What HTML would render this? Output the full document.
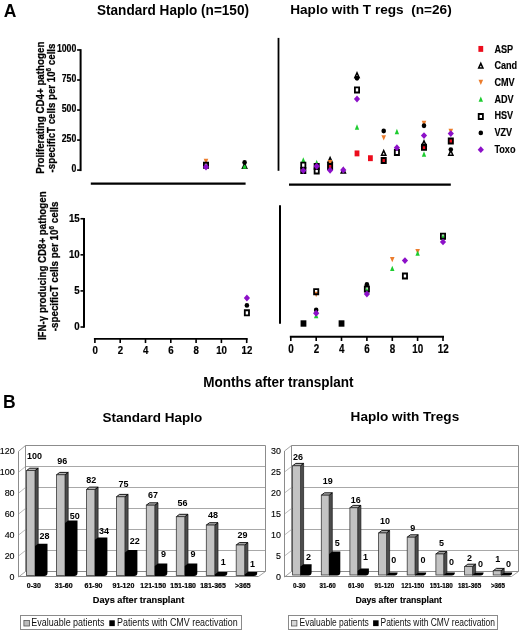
<!DOCTYPE html><html><head><meta charset="utf-8"><style>html,body{margin:0;padding:0;background:#fff;}svg{display:block;will-change:transform;}text{font-family:"Liberation Sans",sans-serif;}</style></head><body>
<svg width="520" height="635" viewBox="0 0 520 635">
<rect width="520" height="635" fill="#fff"/>
<text x="3.7" y="16.9" font-size="17.5" font-weight="bold" text-anchor="start" fill="#000" >A</text>
<text x="97.0" y="14.8" font-size="14" font-weight="bold" text-anchor="start" fill="#000" textLength="152" lengthAdjust="spacingAndGlyphs" >Standard Haplo (n=150)</text>
<text x="290.2" y="14.2" font-size="13" font-weight="bold" text-anchor="start" fill="#000" textLength="161.5" lengthAdjust="spacingAndGlyphs" >Haplo with T regs&#160; (n=26)</text>
<line x1="80.6" y1="49.17999999999999" x2="80.6" y2="171.1" stroke="#000" stroke-width="2"/>
<line x1="77.1" y1="49.97999999999999" x2="80.6" y2="49.97999999999999" stroke="#000" stroke-width="1.6"/>
<text x="76.3" y="51.6" font-size="10.5" font-weight="bold" text-anchor="end" fill="#000" stroke="#000" stroke-width="0.2" textLength="19.39" lengthAdjust="spacingAndGlyphs" >1000</text>
<line x1="77.1" y1="80.00999999999999" x2="80.6" y2="80.00999999999999" stroke="#000" stroke-width="1.6"/>
<text x="76.3" y="81.6" font-size="10.5" font-weight="bold" text-anchor="end" fill="#000" stroke="#000" stroke-width="0.2" textLength="14.54" lengthAdjust="spacingAndGlyphs" >750</text>
<line x1="77.1" y1="110.03999999999999" x2="80.6" y2="110.03999999999999" stroke="#000" stroke-width="1.6"/>
<text x="76.3" y="111.6" font-size="10.5" font-weight="bold" text-anchor="end" fill="#000" stroke="#000" stroke-width="0.2" textLength="14.54" lengthAdjust="spacingAndGlyphs" >500</text>
<line x1="77.1" y1="140.07" x2="80.6" y2="140.07" stroke="#000" stroke-width="1.6"/>
<text x="76.3" y="141.7" font-size="10.5" font-weight="bold" text-anchor="end" fill="#000" stroke="#000" stroke-width="0.2" textLength="14.54" lengthAdjust="spacingAndGlyphs" >250</text>
<line x1="77.1" y1="170.1" x2="80.6" y2="170.1" stroke="#000" stroke-width="1.6"/>
<text x="76.3" y="171.7" font-size="10.5" font-weight="bold" text-anchor="end" fill="#000" stroke="#000" stroke-width="0.2" textLength="4.85" lengthAdjust="spacingAndGlyphs" >0</text>
<g transform="translate(44.2,107.6) rotate(-90) scale(0.9786,1)"><text x="-67.65" y="0" font-size="10" font-weight="bold" stroke="#000" stroke-width="0.25">Proliferating CD4+ pathogen</text></g>
<g transform="translate(55.4,109.3) rotate(-90) scale(0.9723,1)"><text x="-64.90" y="0" font-size="10" font-weight="bold" stroke="#000" stroke-width="0.25">-specificT cells per 10<tspan font-size="6.5" dy="-4">6</tspan><tspan dy="4"> cells</tspan></text></g>
<line x1="90.8" y1="183.6" x2="245.6" y2="183.6" stroke="#000" stroke-width="2.2"/>
<line x1="278.5" y1="37.9" x2="278.5" y2="170.8" stroke="#000" stroke-width="1.8"/>
<line x1="289" y1="184.6" x2="450.8" y2="184.6" stroke="#000" stroke-width="2.2"/>
<path fill-rule="evenodd" d="M244.60,161.80L247.90,169.00L241.30,169.00Z M244.60,165.60L245.70,167.50L243.50,167.50Z" fill="#000"/>
<polygon points="203.70,158.85 208.30,158.85 206.00,164.15" fill="#ec7c2c"/>
<polygon points="244.60,163.55 246.80,168.85 242.40,168.85" fill="#1ecc30"/>
<path fill-rule="evenodd" d="M203.00,161.80h6.0v7.0h-6.0Z M204.80,163.70h2.4v3.2h-2.4Z" fill="#000"/>
<ellipse cx="244.60" cy="162.50" rx="2.3" ry="2.45" fill="#000"/>
<polygon points="206.00,163.55 209.10,167.00 206.00,170.45 202.90,167.00" fill="#8c10c8"/>
<rect x="327.70" y="164.05" width="4.8" height="5.9" fill="#ec0c1c"/>
<rect x="354.60" y="150.45" width="4.8" height="5.9" fill="#ec0c1c"/>
<rect x="368.00" y="155.25" width="4.8" height="5.9" fill="#ec0c1c"/>
<rect x="381.30" y="157.05" width="4.8" height="5.9" fill="#ec0c1c"/>
<rect x="421.60" y="144.05" width="4.8" height="5.9" fill="#ec0c1c"/>
<rect x="448.40" y="138.05" width="4.8" height="5.9" fill="#ec0c1c"/>
<path fill-rule="evenodd" d="M330.10,155.80L333.40,163.00L326.80,163.00Z M330.10,159.60L331.20,161.50L329.00,161.50Z" fill="#000"/>
<path fill-rule="evenodd" d="M343.30,166.50L346.60,173.70L340.00,173.70Z M343.30,170.30L344.40,172.20L342.20,172.20Z" fill="#000"/>
<path fill-rule="evenodd" d="M357.00,71.00L360.30,78.20L353.70,78.20Z M357.00,74.80L358.10,76.70L355.90,76.70Z" fill="#000"/>
<path fill-rule="evenodd" d="M383.70,148.80L387.00,156.00L380.40,156.00Z M383.70,152.60L384.80,154.50L382.60,154.50Z" fill="#000"/>
<path fill-rule="evenodd" d="M424.00,139.00L427.30,146.20L420.70,146.20Z M424.00,142.80L425.10,144.70L422.90,144.70Z" fill="#000"/>
<path fill-rule="evenodd" d="M450.80,148.70L454.10,155.90L447.50,155.90Z M450.80,152.50L451.90,154.40L449.70,154.40Z" fill="#000"/>
<polygon points="327.80,160.05 332.40,160.05 330.10,165.35" fill="#ec7c2c"/>
<polygon points="381.40,135.25 386.00,135.25 383.70,140.55" fill="#ec7c2c"/>
<polygon points="421.70,120.85 426.30,120.85 424.00,126.15" fill="#ec7c2c"/>
<polygon points="448.50,128.85 453.10,128.85 450.80,134.15" fill="#ec7c2c"/>
<polygon points="303.30,157.15 305.50,162.45 301.10,162.45" fill="#1ecc30"/>
<polygon points="316.70,159.85 318.90,165.15 314.50,165.15" fill="#1ecc30"/>
<polygon points="357.00,124.35 359.20,129.65 354.80,129.65" fill="#1ecc30"/>
<polygon points="396.90,128.85 399.10,134.15 394.70,134.15" fill="#1ecc30"/>
<polygon points="424.00,151.35 426.20,156.65 421.80,156.65" fill="#1ecc30"/>
<path fill-rule="evenodd" d="M300.30,161.70h6.0v7.0h-6.0Z M302.10,163.60h2.4v3.2h-2.4Z" fill="#000"/>
<path fill-rule="evenodd" d="M300.30,167.00h6.0v7.0h-6.0Z M302.10,168.90h2.4v3.2h-2.4Z" fill="#000"/>
<path fill-rule="evenodd" d="M313.70,163.00h6.0v7.0h-6.0Z M315.50,164.90h2.4v3.2h-2.4Z" fill="#000"/>
<path fill-rule="evenodd" d="M313.70,167.50h6.0v7.0h-6.0Z M315.50,169.40h2.4v3.2h-2.4Z" fill="#000"/>
<path fill-rule="evenodd" d="M327.10,163.00h6.0v7.0h-6.0Z M328.90,164.90h2.4v3.2h-2.4Z" fill="#000"/>
<path fill-rule="evenodd" d="M354.00,86.40h6.0v7.0h-6.0Z M355.80,88.30h2.4v3.2h-2.4Z" fill="#000"/>
<path fill-rule="evenodd" d="M380.70,157.00h6.0v7.0h-6.0Z M382.50,158.90h2.4v3.2h-2.4Z" fill="#000"/>
<path fill-rule="evenodd" d="M393.90,148.90h6.0v7.0h-6.0Z M395.70,150.80h2.4v3.2h-2.4Z" fill="#000"/>
<path fill-rule="evenodd" d="M421.00,143.80h6.0v7.0h-6.0Z M422.80,145.70h2.4v3.2h-2.4Z" fill="#000"/>
<path fill-rule="evenodd" d="M447.80,137.50h6.0v7.0h-6.0Z M449.60,139.40h2.4v3.2h-2.4Z" fill="#000"/>
<ellipse cx="357.00" cy="78.20" rx="2.3" ry="2.45" fill="#000"/>
<ellipse cx="383.70" cy="131.00" rx="2.3" ry="2.45" fill="#000"/>
<ellipse cx="424.00" cy="125.80" rx="2.3" ry="2.45" fill="#000"/>
<ellipse cx="450.80" cy="149.60" rx="2.3" ry="2.45" fill="#000"/>
<polygon points="303.30,167.15 306.40,170.60 303.30,174.05 300.20,170.60" fill="#8c10c8"/>
<polygon points="316.70,162.75 319.80,166.20 316.70,169.65 313.60,166.20" fill="#8c10c8"/>
<polygon points="330.10,166.85 333.20,170.30 330.10,173.75 327.00,170.30" fill="#8c10c8"/>
<polygon points="343.30,166.55 346.40,170.00 343.30,173.45 340.20,170.00" fill="#8c10c8"/>
<polygon points="357.00,95.55 360.10,99.00 357.00,102.45 353.90,99.00" fill="#8c10c8"/>
<polygon points="396.90,144.25 400.00,147.70 396.90,151.15 393.80,147.70" fill="#8c10c8"/>
<polygon points="424.00,132.15 427.10,135.60 424.00,139.05 420.90,135.60" fill="#8c10c8"/>
<polygon points="450.80,130.15 453.90,133.60 450.80,137.05 447.70,133.60" fill="#8c10c8"/>
<rect x="478.40" y="45.95" width="4.8" height="5.9" fill="#ec0c1c"/>
<text x="494.4" y="52.5" font-size="11.4" font-weight="bold" text-anchor="start" fill="#000" stroke="#000" stroke-width="0.15" textLength="18.75" lengthAdjust="spacingAndGlyphs" >ASP</text>
<path fill-rule="evenodd" d="M480.80,61.60L484.10,68.80L477.50,68.80Z M480.80,65.40L481.90,67.30L479.70,67.30Z" fill="#000"/>
<text x="494.4" y="69.2" font-size="11.4" font-weight="bold" text-anchor="start" fill="#000" stroke="#000" stroke-width="0.15" textLength="22.8" lengthAdjust="spacingAndGlyphs" >Cand</text>
<polygon points="478.50,79.70 483.10,79.70 480.80,85.00" fill="#ec7c2c"/>
<text x="494.4" y="85.9" font-size="11.4" font-weight="bold" text-anchor="start" fill="#000" stroke="#000" stroke-width="0.15" textLength="20.27" lengthAdjust="spacingAndGlyphs" >CMV</text>
<polygon points="480.80,96.50 483.00,101.80 478.60,101.80" fill="#1ecc30"/>
<text x="494.4" y="102.5" font-size="11.4" font-weight="bold" text-anchor="start" fill="#000" stroke="#000" stroke-width="0.15" textLength="19.26" lengthAdjust="spacingAndGlyphs" >ADV</text>
<path fill-rule="evenodd" d="M477.80,113.00h6.0v7.0h-6.0Z M479.60,114.90h2.4v3.2h-2.4Z" fill="#000"/>
<text x="494.4" y="119.2" font-size="11.4" font-weight="bold" text-anchor="start" fill="#000" stroke="#000" stroke-width="0.15" textLength="18.75" lengthAdjust="spacingAndGlyphs" >HSV</text>
<ellipse cx="480.80" cy="132.90" rx="2.3" ry="2.45" fill="#000"/>
<text x="494.4" y="135.9" font-size="11.4" font-weight="bold" text-anchor="start" fill="#000" stroke="#000" stroke-width="0.15" textLength="17.74" lengthAdjust="spacingAndGlyphs" >VZV</text>
<polygon points="480.80,146.20 483.90,149.65 480.80,153.10 477.70,149.65" fill="#8c10c8"/>
<text x="494.4" y="152.6" font-size="11.4" font-weight="bold" text-anchor="start" fill="#000" stroke="#000" stroke-width="0.15" textLength="21.11" lengthAdjust="spacingAndGlyphs" >Toxo</text>
<line x1="84.0" y1="217.945" x2="84.0" y2="327.8" stroke="#000" stroke-width="2"/>
<line x1="80.5" y1="218.745" x2="84.0" y2="218.745" stroke="#000" stroke-width="1.6"/>
<text x="79.7" y="221.7" font-size="11.3" font-weight="bold" text-anchor="end" fill="#000" stroke="#000" stroke-width="0.2" textLength="10.81" lengthAdjust="spacingAndGlyphs" >15</text>
<line x1="80.5" y1="254.82999999999998" x2="84.0" y2="254.82999999999998" stroke="#000" stroke-width="1.6"/>
<text x="79.7" y="257.8" font-size="11.3" font-weight="bold" text-anchor="end" fill="#000" stroke="#000" stroke-width="0.2" textLength="10.81" lengthAdjust="spacingAndGlyphs" >10</text>
<line x1="80.5" y1="290.915" x2="84.0" y2="290.915" stroke="#000" stroke-width="1.6"/>
<text x="79.7" y="293.9" font-size="11.3" font-weight="bold" text-anchor="end" fill="#000" stroke="#000" stroke-width="0.2" textLength="5.4" lengthAdjust="spacingAndGlyphs" >5</text>
<line x1="80.5" y1="327.0" x2="84.0" y2="327.0" stroke="#000" stroke-width="1.6"/>
<text x="79.7" y="330.0" font-size="11.3" font-weight="bold" text-anchor="end" fill="#000" stroke="#000" stroke-width="0.2" textLength="5.4" lengthAdjust="spacingAndGlyphs" >0</text>
<g transform="translate(46.0,265.8) rotate(-90) scale(0.9709,1)"><text x="-76.53" y="0" font-size="10" font-weight="bold" stroke="#000" stroke-width="0.25">IFN-&#947; producing CD8+ pathogen</text></g>
<g transform="translate(57.6,267.5) rotate(-90) scale(0.9815,1)"><text x="-64.90" y="0" font-size="10" font-weight="bold" stroke="#000" stroke-width="0.25">-specificT cells per 10<tspan font-size="6.5" dy="-4">6</tspan><tspan dy="4"> cells</tspan></text></g>
<line x1="280" y1="205.3" x2="280" y2="323.8" stroke="#000" stroke-width="2"/>
<line x1="93.9" y1="338.85" x2="247.7" y2="338.85" stroke="#000" stroke-width="1.9"/>
<line x1="94.9" y1="338.85" x2="94.9" y2="343.05" stroke="#000" stroke-width="1.6"/>
<text x="95.1" y="354.3" font-size="11" font-weight="bold" text-anchor="middle" fill="#000" stroke="#000" stroke-width="0.2" textLength="5.38" lengthAdjust="spacingAndGlyphs" >0</text>
<line x1="120.2" y1="338.85" x2="120.2" y2="343.05" stroke="#000" stroke-width="1.6"/>
<text x="120.4" y="354.3" font-size="11" font-weight="bold" text-anchor="middle" fill="#000" stroke="#000" stroke-width="0.2" textLength="5.38" lengthAdjust="spacingAndGlyphs" >2</text>
<line x1="145.5" y1="338.85" x2="145.5" y2="343.05" stroke="#000" stroke-width="1.6"/>
<text x="145.7" y="354.3" font-size="11" font-weight="bold" text-anchor="middle" fill="#000" stroke="#000" stroke-width="0.2" textLength="5.38" lengthAdjust="spacingAndGlyphs" >4</text>
<line x1="170.8" y1="338.85" x2="170.8" y2="343.05" stroke="#000" stroke-width="1.6"/>
<text x="171.0" y="354.3" font-size="11" font-weight="bold" text-anchor="middle" fill="#000" stroke="#000" stroke-width="0.2" textLength="5.38" lengthAdjust="spacingAndGlyphs" >6</text>
<line x1="196.1" y1="338.85" x2="196.1" y2="343.05" stroke="#000" stroke-width="1.6"/>
<text x="196.3" y="354.3" font-size="11" font-weight="bold" text-anchor="middle" fill="#000" stroke="#000" stroke-width="0.2" textLength="5.38" lengthAdjust="spacingAndGlyphs" >8</text>
<line x1="221.4" y1="338.85" x2="221.4" y2="343.05" stroke="#000" stroke-width="1.6"/>
<text x="221.6" y="354.3" font-size="11" font-weight="bold" text-anchor="middle" fill="#000" stroke="#000" stroke-width="0.2" textLength="10.77" lengthAdjust="spacingAndGlyphs" >10</text>
<line x1="246.7" y1="338.85" x2="246.7" y2="343.05" stroke="#000" stroke-width="1.6"/>
<text x="246.9" y="354.3" font-size="11" font-weight="bold" text-anchor="middle" fill="#000" stroke="#000" stroke-width="0.2" textLength="10.77" lengthAdjust="spacingAndGlyphs" >12</text>
<line x1="289.8" y1="336.8" x2="444.0" y2="336.8" stroke="#000" stroke-width="1.9"/>
<line x1="290.8" y1="336.8" x2="290.8" y2="341.0" stroke="#000" stroke-width="1.6"/>
<text x="291.0" y="353.2" font-size="12" font-weight="bold" text-anchor="middle" fill="#000" stroke="#000" stroke-width="0.2" textLength="5.47" lengthAdjust="spacingAndGlyphs" >0</text>
<line x1="316.2" y1="336.8" x2="316.2" y2="341.0" stroke="#000" stroke-width="1.6"/>
<text x="316.4" y="353.2" font-size="12" font-weight="bold" text-anchor="middle" fill="#000" stroke="#000" stroke-width="0.2" textLength="5.47" lengthAdjust="spacingAndGlyphs" >2</text>
<line x1="341.5" y1="336.8" x2="341.5" y2="341.0" stroke="#000" stroke-width="1.6"/>
<text x="341.7" y="353.2" font-size="12" font-weight="bold" text-anchor="middle" fill="#000" stroke="#000" stroke-width="0.2" textLength="5.47" lengthAdjust="spacingAndGlyphs" >4</text>
<line x1="366.9" y1="336.8" x2="366.9" y2="341.0" stroke="#000" stroke-width="1.6"/>
<text x="367.1" y="353.2" font-size="12" font-weight="bold" text-anchor="middle" fill="#000" stroke="#000" stroke-width="0.2" textLength="5.47" lengthAdjust="spacingAndGlyphs" >6</text>
<line x1="392.3" y1="336.8" x2="392.3" y2="341.0" stroke="#000" stroke-width="1.6"/>
<text x="392.5" y="353.2" font-size="12" font-weight="bold" text-anchor="middle" fill="#000" stroke="#000" stroke-width="0.2" textLength="5.47" lengthAdjust="spacingAndGlyphs" >8</text>
<line x1="417.6" y1="336.8" x2="417.6" y2="341.0" stroke="#000" stroke-width="1.6"/>
<text x="417.8" y="353.2" font-size="12" font-weight="bold" text-anchor="middle" fill="#000" stroke="#000" stroke-width="0.2" textLength="10.95" lengthAdjust="spacingAndGlyphs" >10</text>
<line x1="443.0" y1="336.8" x2="443.0" y2="341.0" stroke="#000" stroke-width="1.6"/>
<text x="443.2" y="353.2" font-size="12" font-weight="bold" text-anchor="middle" fill="#000" stroke="#000" stroke-width="0.2" textLength="10.95" lengthAdjust="spacingAndGlyphs" >12</text>
<path fill-rule="evenodd" d="M243.90,309.30h6.0v7.0h-6.0Z M245.70,311.20h2.4v3.2h-2.4Z" fill="#000"/>
<ellipse cx="246.90" cy="305.40" rx="2.3" ry="2.45" fill="#000"/>
<polygon points="246.90,294.55 250.00,298.00 246.90,301.45 243.80,298.00" fill="#8c10c8"/>
<rect x="300.58" y="320.30" width="5.8" height="6.4" fill="#000"/>
<rect x="338.63" y="320.30" width="5.8" height="6.4" fill="#000"/>
<polygon points="313.87,291.85 318.47,291.85 316.17,297.15" fill="#ec7c2c"/>
<polygon points="389.97,256.95 394.57,256.95 392.27,262.25" fill="#ec7c2c"/>
<polygon points="415.33,248.95 419.93,248.95 417.63,254.25" fill="#ec7c2c"/>
<polygon points="316.17,312.85 318.37,318.15 313.97,318.15" fill="#1ecc30"/>
<polygon points="366.90,287.35 369.10,292.65 364.70,292.65" fill="#1ecc30"/>
<polygon points="392.27,265.65 394.47,270.95 390.07,270.95" fill="#1ecc30"/>
<polygon points="417.63,250.55 419.83,255.85 415.43,255.85" fill="#1ecc30"/>
<polygon points="443.00,234.15 445.20,239.45 440.80,239.45" fill="#1ecc30"/>
<path fill-rule="evenodd" d="M313.17,288.20h6.0v7.0h-6.0Z M314.97,290.10h2.4v3.2h-2.4Z" fill="#000"/>
<path fill-rule="evenodd" d="M363.90,285.50h6.0v7.0h-6.0Z M365.70,287.40h2.4v3.2h-2.4Z" fill="#000"/>
<path fill-rule="evenodd" d="M401.95,272.50h6.0v7.0h-6.0Z M403.75,274.40h2.4v3.2h-2.4Z" fill="#000"/>
<path fill-rule="evenodd" d="M440.00,232.70h6.0v7.0h-6.0Z M441.80,234.60h2.4v3.2h-2.4Z" fill="#000"/>
<ellipse cx="316.17" cy="310.00" rx="2.3" ry="2.45" fill="#000"/>
<ellipse cx="366.90" cy="284.40" rx="2.3" ry="2.45" fill="#000"/>
<polygon points="316.17,309.85 319.27,313.30 316.17,316.75 313.07,313.30" fill="#8c10c8"/>
<polygon points="366.90,290.55 370.00,294.00 366.90,297.45 363.80,294.00" fill="#8c10c8"/>
<polygon points="404.95,257.15 408.05,260.60 404.95,264.05 401.85,260.60" fill="#8c10c8"/>
<polygon points="443.00,238.45 446.10,241.90 443.00,245.35 439.90,241.90" fill="#8c10c8"/>
<text x="203.2" y="386.9" font-size="14" font-weight="bold" text-anchor="start" fill="#000" textLength="150.3" lengthAdjust="spacingAndGlyphs" >Months after transplant</text>
<text x="2.9" y="407.8" font-size="17.5" font-weight="bold" text-anchor="start" fill="#000" >B</text>
<text x="102.6" y="421.6" font-size="13" font-weight="bold" text-anchor="start" fill="#000" textLength="99.6" lengthAdjust="spacingAndGlyphs" >Standard Haplo</text>
<text x="350.6" y="421.2" font-size="13.3" font-weight="bold" text-anchor="start" fill="#000" textLength="108.6" lengthAdjust="spacingAndGlyphs" >Haplo with Tregs</text>
<line x1="18.5" y1="577.0" x2="25.5" y2="571.5" stroke="#8c8c8c" stroke-width="0.8"/>
<line x1="25.5" y1="571.5" x2="265.5" y2="571.5" stroke="#8c8c8c" stroke-width="1"/>
<text x="14.6" y="580.0" font-size="8.5" font-weight="normal" text-anchor="end" fill="#000" stroke="#000" stroke-width="0.12" textLength="4.96" lengthAdjust="spacingAndGlyphs" >0</text>
<line x1="18.5" y1="556.0" x2="25.5" y2="550.5" stroke="#a8a8a8" stroke-width="0.8"/>
<line x1="25.5" y1="550.5" x2="265.5" y2="550.5" stroke="#a8a8a8" stroke-width="1"/>
<text x="14.6" y="559.0" font-size="8.5" font-weight="normal" text-anchor="end" fill="#000" stroke="#000" stroke-width="0.12" textLength="9.93" lengthAdjust="spacingAndGlyphs" >20</text>
<line x1="18.5" y1="535.1" x2="25.5" y2="529.5" stroke="#a8a8a8" stroke-width="0.8"/>
<line x1="25.5" y1="529.5" x2="265.5" y2="529.5" stroke="#a8a8a8" stroke-width="1"/>
<text x="14.6" y="538.1" font-size="8.5" font-weight="normal" text-anchor="end" fill="#000" stroke="#000" stroke-width="0.12" textLength="9.93" lengthAdjust="spacingAndGlyphs" >40</text>
<line x1="18.5" y1="514.1" x2="25.5" y2="508.5" stroke="#a8a8a8" stroke-width="0.8"/>
<line x1="25.5" y1="508.5" x2="265.5" y2="508.5" stroke="#a8a8a8" stroke-width="1"/>
<text x="14.6" y="517.1" font-size="8.5" font-weight="normal" text-anchor="end" fill="#000" stroke="#000" stroke-width="0.12" textLength="9.93" lengthAdjust="spacingAndGlyphs" >60</text>
<line x1="18.5" y1="493.2" x2="25.5" y2="487.5" stroke="#a8a8a8" stroke-width="0.8"/>
<line x1="25.5" y1="487.5" x2="265.5" y2="487.5" stroke="#a8a8a8" stroke-width="1"/>
<text x="14.6" y="496.2" font-size="8.5" font-weight="normal" text-anchor="end" fill="#000" stroke="#000" stroke-width="0.12" textLength="9.93" lengthAdjust="spacingAndGlyphs" >80</text>
<line x1="18.5" y1="472.2" x2="25.5" y2="466.5" stroke="#a8a8a8" stroke-width="0.8"/>
<line x1="25.5" y1="466.5" x2="265.5" y2="466.5" stroke="#a8a8a8" stroke-width="1"/>
<text x="14.6" y="475.2" font-size="8.5" font-weight="normal" text-anchor="end" fill="#000" stroke="#000" stroke-width="0.12" textLength="14.89" lengthAdjust="spacingAndGlyphs" >100</text>
<line x1="18.5" y1="451.3" x2="25.5" y2="445.5" stroke="#8c8c8c" stroke-width="0.8"/>
<line x1="25.5" y1="445.5" x2="265.5" y2="445.5" stroke="#8c8c8c" stroke-width="1"/>
<text x="14.6" y="454.3" font-size="8.5" font-weight="normal" text-anchor="end" fill="#000" stroke="#000" stroke-width="0.12" textLength="14.89" lengthAdjust="spacingAndGlyphs" >120</text>
<line x1="18.5" y1="451.3" x2="18.5" y2="577.0" stroke="#8c8c8c" stroke-width="1"/>
<line x1="25.5" y1="445.5" x2="25.5" y2="571.5" stroke="#8c8c8c" stroke-width="1"/>
<line x1="265.5" y1="445.5" x2="265.5" y2="571.5" stroke="#8c8c8c" stroke-width="1"/>
<line x1="18.5" y1="576.5" x2="258.5" y2="576.5" stroke="#8c8c8c" stroke-width="1"/>
<line x1="258.5" y1="576.5" x2="265.5" y2="571.5" stroke="#8c8c8c" stroke-width="0.8"/>
<polygon points="35.0,470.6 38.2,468.2 38.2,573.0 35.0,575.4" fill="#4c4c4c" stroke="#1a1a1a" stroke-width="0.7"/>
<polygon points="26.5,470.6 29.7,468.2 38.2,468.2 35.0,470.6" fill="#b4b4b4" stroke="#000" stroke-width="0.9"/>
<rect x="26.5" y="470.6" width="8.5" height="104.8" fill="#c3c3c3" stroke="#3a3a3a" stroke-width="0.8"/>
<path d="M35.0,546.1 L38.2,543.7 L47.5,543.7 L47.5,573.0 Q47.5,575.9 44.3,575.9 L35.0,575.9Z" fill="#000"/>
<polygon points="65.0,474.8 68.2,472.4 68.2,573.0 65.0,575.4" fill="#4c4c4c" stroke="#1a1a1a" stroke-width="0.7"/>
<polygon points="56.5,474.8 59.7,472.4 68.2,472.4 65.0,474.8" fill="#b4b4b4" stroke="#000" stroke-width="0.9"/>
<rect x="56.5" y="474.8" width="8.5" height="100.6" fill="#c3c3c3" stroke="#3a3a3a" stroke-width="0.8"/>
<path d="M65.0,523.0 L68.2,520.6 L77.5,520.6 L77.5,573.0 Q77.5,575.9 74.3,575.9 L65.0,575.9Z" fill="#000"/>
<polygon points="94.9,489.5 98.1,487.1 98.1,573.0 94.9,575.4" fill="#4c4c4c" stroke="#1a1a1a" stroke-width="0.7"/>
<polygon points="86.4,489.5 89.6,487.1 98.1,487.1 94.9,489.5" fill="#b4b4b4" stroke="#000" stroke-width="0.9"/>
<rect x="86.4" y="489.5" width="8.5" height="85.9" fill="#c3c3c3" stroke="#3a3a3a" stroke-width="0.8"/>
<path d="M94.9,539.8 L98.1,537.4 L107.4,537.4 L107.4,573.0 Q107.4,575.9 104.2,575.9 L94.9,575.9Z" fill="#000"/>
<polygon points="124.9,496.8 128.1,494.4 128.1,573.0 124.9,575.4" fill="#4c4c4c" stroke="#1a1a1a" stroke-width="0.7"/>
<polygon points="116.4,496.8 119.6,494.4 128.1,494.4 124.9,496.8" fill="#b4b4b4" stroke="#000" stroke-width="0.9"/>
<rect x="116.4" y="496.8" width="8.5" height="78.6" fill="#c3c3c3" stroke="#3a3a3a" stroke-width="0.8"/>
<path d="M124.9,552.4 L128.1,550.0 L137.4,550.0 L137.4,573.0 Q137.4,575.9 134.2,575.9 L124.9,575.9Z" fill="#000"/>
<polygon points="154.8,505.2 158.0,502.8 158.0,573.0 154.8,575.4" fill="#4c4c4c" stroke="#1a1a1a" stroke-width="0.7"/>
<polygon points="146.3,505.2 149.5,502.8 158.0,502.8 154.8,505.2" fill="#b4b4b4" stroke="#000" stroke-width="0.9"/>
<rect x="146.3" y="505.2" width="8.5" height="70.2" fill="#c3c3c3" stroke="#3a3a3a" stroke-width="0.8"/>
<path d="M154.8,566.0 L158.0,563.6 L167.3,563.6 L167.3,573.0 Q167.3,575.9 164.1,575.9 L154.8,575.9Z" fill="#000"/>
<polygon points="184.8,516.7 188.0,514.3 188.0,573.0 184.8,575.4" fill="#4c4c4c" stroke="#1a1a1a" stroke-width="0.7"/>
<polygon points="176.3,516.7 179.5,514.3 188.0,514.3 184.8,516.7" fill="#b4b4b4" stroke="#000" stroke-width="0.9"/>
<rect x="176.3" y="516.7" width="8.5" height="58.7" fill="#c3c3c3" stroke="#3a3a3a" stroke-width="0.8"/>
<path d="M184.8,566.0 L188.0,563.6 L197.3,563.6 L197.3,573.0 Q197.3,575.9 194.1,575.9 L184.8,575.9Z" fill="#000"/>
<polygon points="214.8,525.1 218.0,522.7 218.0,573.0 214.8,575.4" fill="#4c4c4c" stroke="#1a1a1a" stroke-width="0.7"/>
<polygon points="206.3,525.1 209.5,522.7 218.0,522.7 214.8,525.1" fill="#b4b4b4" stroke="#000" stroke-width="0.9"/>
<rect x="206.3" y="525.1" width="8.5" height="50.3" fill="#c3c3c3" stroke="#3a3a3a" stroke-width="0.8"/>
<path d="M214.8,574.4 L218.0,572.0 L227.3,572.0 L227.3,573.0 Q227.3,575.9 224.1,575.9 L214.8,575.9Z" fill="#000"/>
<polygon points="244.7,545.0 247.9,542.6 247.9,573.0 244.7,575.4" fill="#4c4c4c" stroke="#1a1a1a" stroke-width="0.7"/>
<polygon points="236.2,545.0 239.4,542.6 247.9,542.6 244.7,545.0" fill="#b4b4b4" stroke="#000" stroke-width="0.9"/>
<rect x="236.2" y="545.0" width="8.5" height="30.4" fill="#c3c3c3" stroke="#3a3a3a" stroke-width="0.8"/>
<path d="M244.7,574.4 L247.9,572.0 L257.2,572.0 L257.2,573.0 Q257.2,575.9 254.0,575.9 L244.7,575.9Z" fill="#000"/>
<text x="34.6" y="458.8" font-size="9" font-weight="bold" text-anchor="middle" fill="#000" textLength="15.02" lengthAdjust="spacingAndGlyphs" >100</text>
<text x="62.2" y="463.9" font-size="9" font-weight="bold" text-anchor="middle" fill="#000" textLength="10.01" lengthAdjust="spacingAndGlyphs" >96</text>
<text x="91.2" y="482.8" font-size="9" font-weight="bold" text-anchor="middle" fill="#000" textLength="10.01" lengthAdjust="spacingAndGlyphs" >82</text>
<text x="123.4" y="487.4" font-size="9" font-weight="bold" text-anchor="middle" fill="#000" textLength="10.01" lengthAdjust="spacingAndGlyphs" >75</text>
<text x="153.1" y="498.0" font-size="9" font-weight="bold" text-anchor="middle" fill="#000" textLength="10.01" lengthAdjust="spacingAndGlyphs" >67</text>
<text x="182.6" y="505.9" font-size="9" font-weight="bold" text-anchor="middle" fill="#000" textLength="10.01" lengthAdjust="spacingAndGlyphs" >56</text>
<text x="213.1" y="518.1" font-size="9" font-weight="bold" text-anchor="middle" fill="#000" textLength="10.01" lengthAdjust="spacingAndGlyphs" >48</text>
<text x="242.5" y="537.7" font-size="9" font-weight="bold" text-anchor="middle" fill="#000" textLength="10.01" lengthAdjust="spacingAndGlyphs" >29</text>
<text x="44.6" y="538.9" font-size="9" font-weight="bold" text-anchor="middle" fill="#000" textLength="10.01" lengthAdjust="spacingAndGlyphs" >28</text>
<text x="74.7" y="518.8" font-size="9" font-weight="bold" text-anchor="middle" fill="#000" textLength="10.01" lengthAdjust="spacingAndGlyphs" >50</text>
<text x="104.0" y="533.6" font-size="9" font-weight="bold" text-anchor="middle" fill="#000" textLength="10.01" lengthAdjust="spacingAndGlyphs" >34</text>
<text x="134.7" y="543.5" font-size="9" font-weight="bold" text-anchor="middle" fill="#000" textLength="10.01" lengthAdjust="spacingAndGlyphs" >22</text>
<text x="163.5" y="557.4" font-size="9" font-weight="bold" text-anchor="middle" fill="#000" textLength="5.01" lengthAdjust="spacingAndGlyphs" >9</text>
<text x="193.1" y="557.4" font-size="9" font-weight="bold" text-anchor="middle" fill="#000" textLength="5.01" lengthAdjust="spacingAndGlyphs" >9</text>
<text x="223.2" y="565.0" font-size="9" font-weight="bold" text-anchor="middle" fill="#000" textLength="5.01" lengthAdjust="spacingAndGlyphs" >1</text>
<text x="252.6" y="567.3" font-size="9" font-weight="bold" text-anchor="middle" fill="#000" textLength="5.01" lengthAdjust="spacingAndGlyphs" >1</text>
<text x="33.8" y="588.0" font-size="7" font-weight="bold" text-anchor="middle" fill="#000" stroke="#000" stroke-width="0.2" textLength="14.01" lengthAdjust="spacingAndGlyphs" >0-30</text>
<text x="63.7" y="588.0" font-size="7" font-weight="bold" text-anchor="middle" fill="#000" stroke="#000" stroke-width="0.2" textLength="17.9" lengthAdjust="spacingAndGlyphs" >31-60</text>
<text x="93.5" y="588.0" font-size="7" font-weight="bold" text-anchor="middle" fill="#000" stroke="#000" stroke-width="0.2" textLength="17.9" lengthAdjust="spacingAndGlyphs" >61-90</text>
<text x="123.4" y="588.0" font-size="7" font-weight="bold" text-anchor="middle" fill="#000" stroke="#000" stroke-width="0.2" textLength="21.8" lengthAdjust="spacingAndGlyphs" >91-120</text>
<text x="153.2" y="588.0" font-size="7" font-weight="bold" text-anchor="middle" fill="#000" stroke="#000" stroke-width="0.2" textLength="25.69" lengthAdjust="spacingAndGlyphs" >121-150</text>
<text x="183.1" y="588.0" font-size="7" font-weight="bold" text-anchor="middle" fill="#000" stroke="#000" stroke-width="0.2" textLength="25.69" lengthAdjust="spacingAndGlyphs" >151-180</text>
<text x="213.0" y="588.0" font-size="7" font-weight="bold" text-anchor="middle" fill="#000" stroke="#000" stroke-width="0.2" textLength="25.69" lengthAdjust="spacingAndGlyphs" >181-365</text>
<text x="242.8" y="588.0" font-size="7" font-weight="bold" text-anchor="middle" fill="#000" stroke="#000" stroke-width="0.2" textLength="15.77" lengthAdjust="spacingAndGlyphs" >&gt;365</text>
<line x1="284.5" y1="577.0" x2="291.5" y2="571.5" stroke="#8c8c8c" stroke-width="0.8"/>
<line x1="291.5" y1="571.5" x2="518.5" y2="571.5" stroke="#8c8c8c" stroke-width="1"/>
<text x="280.9" y="580.0" font-size="8.5" font-weight="normal" text-anchor="end" fill="#000" stroke="#000" stroke-width="0.12" textLength="4.96" lengthAdjust="spacingAndGlyphs" >0</text>
<line x1="284.5" y1="556.0" x2="291.5" y2="550.5" stroke="#a8a8a8" stroke-width="0.8"/>
<line x1="291.5" y1="550.5" x2="518.5" y2="550.5" stroke="#a8a8a8" stroke-width="1"/>
<text x="280.9" y="559.0" font-size="8.5" font-weight="normal" text-anchor="end" fill="#000" stroke="#000" stroke-width="0.12" textLength="4.96" lengthAdjust="spacingAndGlyphs" >5</text>
<line x1="284.5" y1="535.0" x2="291.5" y2="529.5" stroke="#a8a8a8" stroke-width="0.8"/>
<line x1="291.5" y1="529.5" x2="518.5" y2="529.5" stroke="#a8a8a8" stroke-width="1"/>
<text x="280.9" y="538.0" font-size="8.5" font-weight="normal" text-anchor="end" fill="#000" stroke="#000" stroke-width="0.12" textLength="9.93" lengthAdjust="spacingAndGlyphs" >10</text>
<line x1="284.5" y1="514.0" x2="291.5" y2="508.5" stroke="#a8a8a8" stroke-width="0.8"/>
<line x1="291.5" y1="508.5" x2="518.5" y2="508.5" stroke="#a8a8a8" stroke-width="1"/>
<text x="280.9" y="517.0" font-size="8.5" font-weight="normal" text-anchor="end" fill="#000" stroke="#000" stroke-width="0.12" textLength="9.93" lengthAdjust="spacingAndGlyphs" >15</text>
<line x1="284.5" y1="493.0" x2="291.5" y2="487.5" stroke="#a8a8a8" stroke-width="0.8"/>
<line x1="291.5" y1="487.5" x2="518.5" y2="487.5" stroke="#a8a8a8" stroke-width="1"/>
<text x="280.9" y="496.0" font-size="8.5" font-weight="normal" text-anchor="end" fill="#000" stroke="#000" stroke-width="0.12" textLength="9.93" lengthAdjust="spacingAndGlyphs" >20</text>
<line x1="284.5" y1="472.0" x2="291.5" y2="466.5" stroke="#a8a8a8" stroke-width="0.8"/>
<line x1="291.5" y1="466.5" x2="518.5" y2="466.5" stroke="#a8a8a8" stroke-width="1"/>
<text x="280.9" y="475.0" font-size="8.5" font-weight="normal" text-anchor="end" fill="#000" stroke="#000" stroke-width="0.12" textLength="9.93" lengthAdjust="spacingAndGlyphs" >25</text>
<line x1="284.5" y1="451.0" x2="291.5" y2="445.5" stroke="#8c8c8c" stroke-width="0.8"/>
<line x1="291.5" y1="445.5" x2="518.5" y2="445.5" stroke="#8c8c8c" stroke-width="1"/>
<text x="280.9" y="454.0" font-size="8.5" font-weight="normal" text-anchor="end" fill="#000" stroke="#000" stroke-width="0.12" textLength="9.93" lengthAdjust="spacingAndGlyphs" >30</text>
<line x1="284.5" y1="451.0" x2="284.5" y2="577.0" stroke="#8c8c8c" stroke-width="1"/>
<line x1="291.5" y1="445.5" x2="291.5" y2="571.5" stroke="#8c8c8c" stroke-width="1"/>
<line x1="518.5" y1="445.5" x2="518.5" y2="571.5" stroke="#8c8c8c" stroke-width="1"/>
<line x1="284.5" y1="576.5" x2="511.5" y2="576.5" stroke="#8c8c8c" stroke-width="1"/>
<line x1="511.5" y1="576.5" x2="518.5" y2="571.5" stroke="#8c8c8c" stroke-width="0.8"/>
<polygon points="300.4,465.8 303.6,463.4 303.6,572.6 300.4,575.0" fill="#4c4c4c" stroke="#1a1a1a" stroke-width="0.7"/>
<polygon points="292.6,465.8 295.8,463.4 303.6,463.4 300.4,465.8" fill="#b4b4b4" stroke="#000" stroke-width="0.9"/>
<rect x="292.6" y="465.8" width="7.8" height="109.2" fill="#c3c3c3" stroke="#3a3a3a" stroke-width="0.8"/>
<path d="M300.4,566.6 L303.6,564.2 L311.6,564.2 L311.6,572.6 Q311.6,575.5 308.4,575.5 L300.4,575.5Z" fill="#000"/>
<polygon points="329.1,495.2 332.3,492.8 332.3,572.6 329.1,575.0" fill="#4c4c4c" stroke="#1a1a1a" stroke-width="0.7"/>
<polygon points="321.3,495.2 324.5,492.8 332.3,492.8 329.1,495.2" fill="#b4b4b4" stroke="#000" stroke-width="0.9"/>
<rect x="321.3" y="495.2" width="7.8" height="79.8" fill="#c3c3c3" stroke="#3a3a3a" stroke-width="0.8"/>
<path d="M329.1,554.0 L332.3,551.6 L340.3,551.6 L340.3,572.6 Q340.3,575.5 337.1,575.5 L329.1,575.5Z" fill="#000"/>
<polygon points="357.7,507.8 360.9,505.4 360.9,572.6 357.7,575.0" fill="#4c4c4c" stroke="#1a1a1a" stroke-width="0.7"/>
<polygon points="349.9,507.8 353.1,505.4 360.9,505.4 357.7,507.8" fill="#b4b4b4" stroke="#000" stroke-width="0.9"/>
<rect x="349.9" y="507.8" width="7.8" height="67.2" fill="#c3c3c3" stroke="#3a3a3a" stroke-width="0.8"/>
<path d="M357.7,570.8 L360.9,568.4 L368.9,568.4 L368.9,572.6 Q368.9,575.5 365.7,575.5 L357.7,575.5Z" fill="#000"/>
<polygon points="386.4,533.0 389.6,530.6 389.6,572.6 386.4,575.0" fill="#4c4c4c" stroke="#1a1a1a" stroke-width="0.7"/>
<polygon points="378.6,533.0 381.8,530.6 389.6,530.6 386.4,533.0" fill="#b4b4b4" stroke="#000" stroke-width="0.9"/>
<rect x="378.6" y="533.0" width="7.8" height="42.0" fill="#c3c3c3" stroke="#3a3a3a" stroke-width="0.8"/>
<path d="M386.4,575.0 L389.6,572.6 L397.6,572.6 L397.6,572.6 Q397.6,575.5 394.4,575.5 L386.4,575.5Z" fill="#000"/>
<polygon points="415.0,537.2 418.2,534.8 418.2,572.6 415.0,575.0" fill="#4c4c4c" stroke="#1a1a1a" stroke-width="0.7"/>
<polygon points="407.2,537.2 410.4,534.8 418.2,534.8 415.0,537.2" fill="#b4b4b4" stroke="#000" stroke-width="0.9"/>
<rect x="407.2" y="537.2" width="7.8" height="37.8" fill="#c3c3c3" stroke="#3a3a3a" stroke-width="0.8"/>
<path d="M415.0,575.0 L418.2,572.6 L426.2,572.6 L426.2,572.6 Q426.2,575.5 423.0,575.5 L415.0,575.5Z" fill="#000"/>
<polygon points="443.7,554.0 446.9,551.6 446.9,572.6 443.7,575.0" fill="#4c4c4c" stroke="#1a1a1a" stroke-width="0.7"/>
<polygon points="435.9,554.0 439.1,551.6 446.9,551.6 443.7,554.0" fill="#b4b4b4" stroke="#000" stroke-width="0.9"/>
<rect x="435.9" y="554.0" width="7.8" height="21.0" fill="#c3c3c3" stroke="#3a3a3a" stroke-width="0.8"/>
<path d="M443.7,575.0 L446.9,572.6 L454.9,572.6 L454.9,572.6 Q454.9,575.5 451.7,575.5 L443.7,575.5Z" fill="#000"/>
<polygon points="472.4,566.6 475.6,564.2 475.6,572.6 472.4,575.0" fill="#4c4c4c" stroke="#1a1a1a" stroke-width="0.7"/>
<polygon points="464.6,566.6 467.8,564.2 475.6,564.2 472.4,566.6" fill="#b4b4b4" stroke="#000" stroke-width="0.9"/>
<rect x="464.6" y="566.6" width="7.8" height="8.4" fill="#c3c3c3" stroke="#3a3a3a" stroke-width="0.8"/>
<path d="M472.4,575.0 L475.6,572.6 L483.6,572.6 L483.6,572.6 Q483.6,575.5 480.4,575.5 L472.4,575.5Z" fill="#000"/>
<polygon points="501.0,570.8 504.2,568.4 504.2,572.6 501.0,575.0" fill="#4c4c4c" stroke="#1a1a1a" stroke-width="0.7"/>
<polygon points="493.2,570.8 496.4,568.4 504.2,568.4 501.0,570.8" fill="#b4b4b4" stroke="#000" stroke-width="0.9"/>
<rect x="493.2" y="570.8" width="7.8" height="4.2" fill="#c3c3c3" stroke="#3a3a3a" stroke-width="0.8"/>
<path d="M501.0,575.0 L504.2,572.6 L512.2,572.6 L512.2,572.6 Q512.2,575.5 509.0,575.5 L501.0,575.5Z" fill="#000"/>
<text x="298.1" y="459.7" font-size="9" font-weight="bold" text-anchor="middle" fill="#000" textLength="10.01" lengthAdjust="spacingAndGlyphs" >26</text>
<text x="327.7" y="483.5" font-size="9" font-weight="bold" text-anchor="middle" fill="#000" textLength="10.01" lengthAdjust="spacingAndGlyphs" >19</text>
<text x="355.8" y="502.7" font-size="9" font-weight="bold" text-anchor="middle" fill="#000" textLength="10.01" lengthAdjust="spacingAndGlyphs" >16</text>
<text x="385.1" y="524.4" font-size="9" font-weight="bold" text-anchor="middle" fill="#000" textLength="10.01" lengthAdjust="spacingAndGlyphs" >10</text>
<text x="412.7" y="530.5" font-size="9" font-weight="bold" text-anchor="middle" fill="#000" textLength="5.01" lengthAdjust="spacingAndGlyphs" >9</text>
<text x="441.4" y="546.2" font-size="9" font-weight="bold" text-anchor="middle" fill="#000" textLength="5.01" lengthAdjust="spacingAndGlyphs" >5</text>
<text x="469.5" y="560.5" font-size="9" font-weight="bold" text-anchor="middle" fill="#000" textLength="5.01" lengthAdjust="spacingAndGlyphs" >2</text>
<text x="497.7" y="561.9" font-size="9" font-weight="bold" text-anchor="middle" fill="#000" textLength="5.01" lengthAdjust="spacingAndGlyphs" >1</text>
<text x="308.4" y="560.4" font-size="9" font-weight="bold" text-anchor="middle" fill="#000" textLength="5.01" lengthAdjust="spacingAndGlyphs" >2</text>
<text x="337.3" y="546.3" font-size="9" font-weight="bold" text-anchor="middle" fill="#000" textLength="5.01" lengthAdjust="spacingAndGlyphs" >5</text>
<text x="365.4" y="559.7" font-size="9" font-weight="bold" text-anchor="middle" fill="#000" textLength="5.01" lengthAdjust="spacingAndGlyphs" >1</text>
<text x="393.7" y="562.7" font-size="9" font-weight="bold" text-anchor="middle" fill="#000" textLength="5.01" lengthAdjust="spacingAndGlyphs" >0</text>
<text x="422.9" y="562.8" font-size="9" font-weight="bold" text-anchor="middle" fill="#000" textLength="5.01" lengthAdjust="spacingAndGlyphs" >0</text>
<text x="451.6" y="565.1" font-size="9" font-weight="bold" text-anchor="middle" fill="#000" textLength="5.01" lengthAdjust="spacingAndGlyphs" >0</text>
<text x="480.5" y="567.0" font-size="9" font-weight="bold" text-anchor="middle" fill="#000" textLength="5.01" lengthAdjust="spacingAndGlyphs" >0</text>
<text x="508.4" y="567.0" font-size="9" font-weight="bold" text-anchor="middle" fill="#000" textLength="5.01" lengthAdjust="spacingAndGlyphs" >0</text>
<text x="299.2" y="588.0" font-size="7" font-weight="bold" text-anchor="middle" fill="#000" stroke="#000" stroke-width="0.2" textLength="12.61" lengthAdjust="spacingAndGlyphs" >0-30</text>
<text x="327.6" y="588.0" font-size="7" font-weight="bold" text-anchor="middle" fill="#000" stroke="#000" stroke-width="0.2" textLength="16.11" lengthAdjust="spacingAndGlyphs" >31-60</text>
<text x="356.0" y="588.0" font-size="7" font-weight="bold" text-anchor="middle" fill="#000" stroke="#000" stroke-width="0.2" textLength="16.11" lengthAdjust="spacingAndGlyphs" >61-90</text>
<text x="384.4" y="588.0" font-size="7" font-weight="bold" text-anchor="middle" fill="#000" stroke="#000" stroke-width="0.2" textLength="19.62" lengthAdjust="spacingAndGlyphs" >91-120</text>
<text x="412.8" y="588.0" font-size="7" font-weight="bold" text-anchor="middle" fill="#000" stroke="#000" stroke-width="0.2" textLength="23.12" lengthAdjust="spacingAndGlyphs" >121-150</text>
<text x="441.2" y="588.0" font-size="7" font-weight="bold" text-anchor="middle" fill="#000" stroke="#000" stroke-width="0.2" textLength="23.12" lengthAdjust="spacingAndGlyphs" >151-180</text>
<text x="469.6" y="588.0" font-size="7" font-weight="bold" text-anchor="middle" fill="#000" stroke="#000" stroke-width="0.2" textLength="23.12" lengthAdjust="spacingAndGlyphs" >181-365</text>
<text x="498.0" y="588.0" font-size="7" font-weight="bold" text-anchor="middle" fill="#000" stroke="#000" stroke-width="0.2" textLength="14.19" lengthAdjust="spacingAndGlyphs" >&gt;365</text>
<text x="92.8" y="603.0" font-size="9.4" font-weight="bold" text-anchor="start" fill="#000" stroke="#000" stroke-width="0.15" textLength="91.4" lengthAdjust="spacingAndGlyphs" >Days after transplant</text>
<text x="355.4" y="602.8" font-size="9.5" font-weight="bold" text-anchor="start" fill="#000" stroke="#000" stroke-width="0.15" textLength="86.6" lengthAdjust="spacingAndGlyphs" >Days after transplant</text>
<rect x="20.5" y="615.5" width="221.0" height="14.0" fill="#fff" stroke="#8a8a8a" stroke-width="1"/>
<rect x="23.9" y="620.5" width="5.5" height="5.5" fill="#bdbdbd" stroke="#555" stroke-width="0.8"/>
<text x="31.3" y="626.0" font-size="10" font-weight="normal" text-anchor="start" fill="#111" textLength="73.2" lengthAdjust="spacingAndGlyphs" >Evaluable patients</text>
<rect x="109.3" y="620.3" width="5.5" height="5.8" fill="#000"/>
<text x="117.0" y="626.0" font-size="10" font-weight="normal" text-anchor="start" fill="#111" textLength="120.7" lengthAdjust="spacingAndGlyphs" >Patients with CMV reactivation</text>
<rect x="288.5" y="615.5" width="209.0" height="14.0" fill="#fff" stroke="#8a8a8a" stroke-width="1"/>
<rect x="291.4" y="620.5" width="5.5" height="5.5" fill="#d8d8d8" stroke="#555" stroke-width="0.8"/>
<text x="299.5" y="626.0" font-size="10" font-weight="normal" text-anchor="start" fill="#111" textLength="69.3" lengthAdjust="spacingAndGlyphs" >Evaluable patients</text>
<rect x="373.1" y="620.3" width="5.5" height="5.8" fill="#000"/>
<text x="380.5" y="626.0" font-size="10" font-weight="normal" text-anchor="start" fill="#111" textLength="114.5" lengthAdjust="spacingAndGlyphs" >Patients with CMV reactivation</text>
</svg></body></html>
